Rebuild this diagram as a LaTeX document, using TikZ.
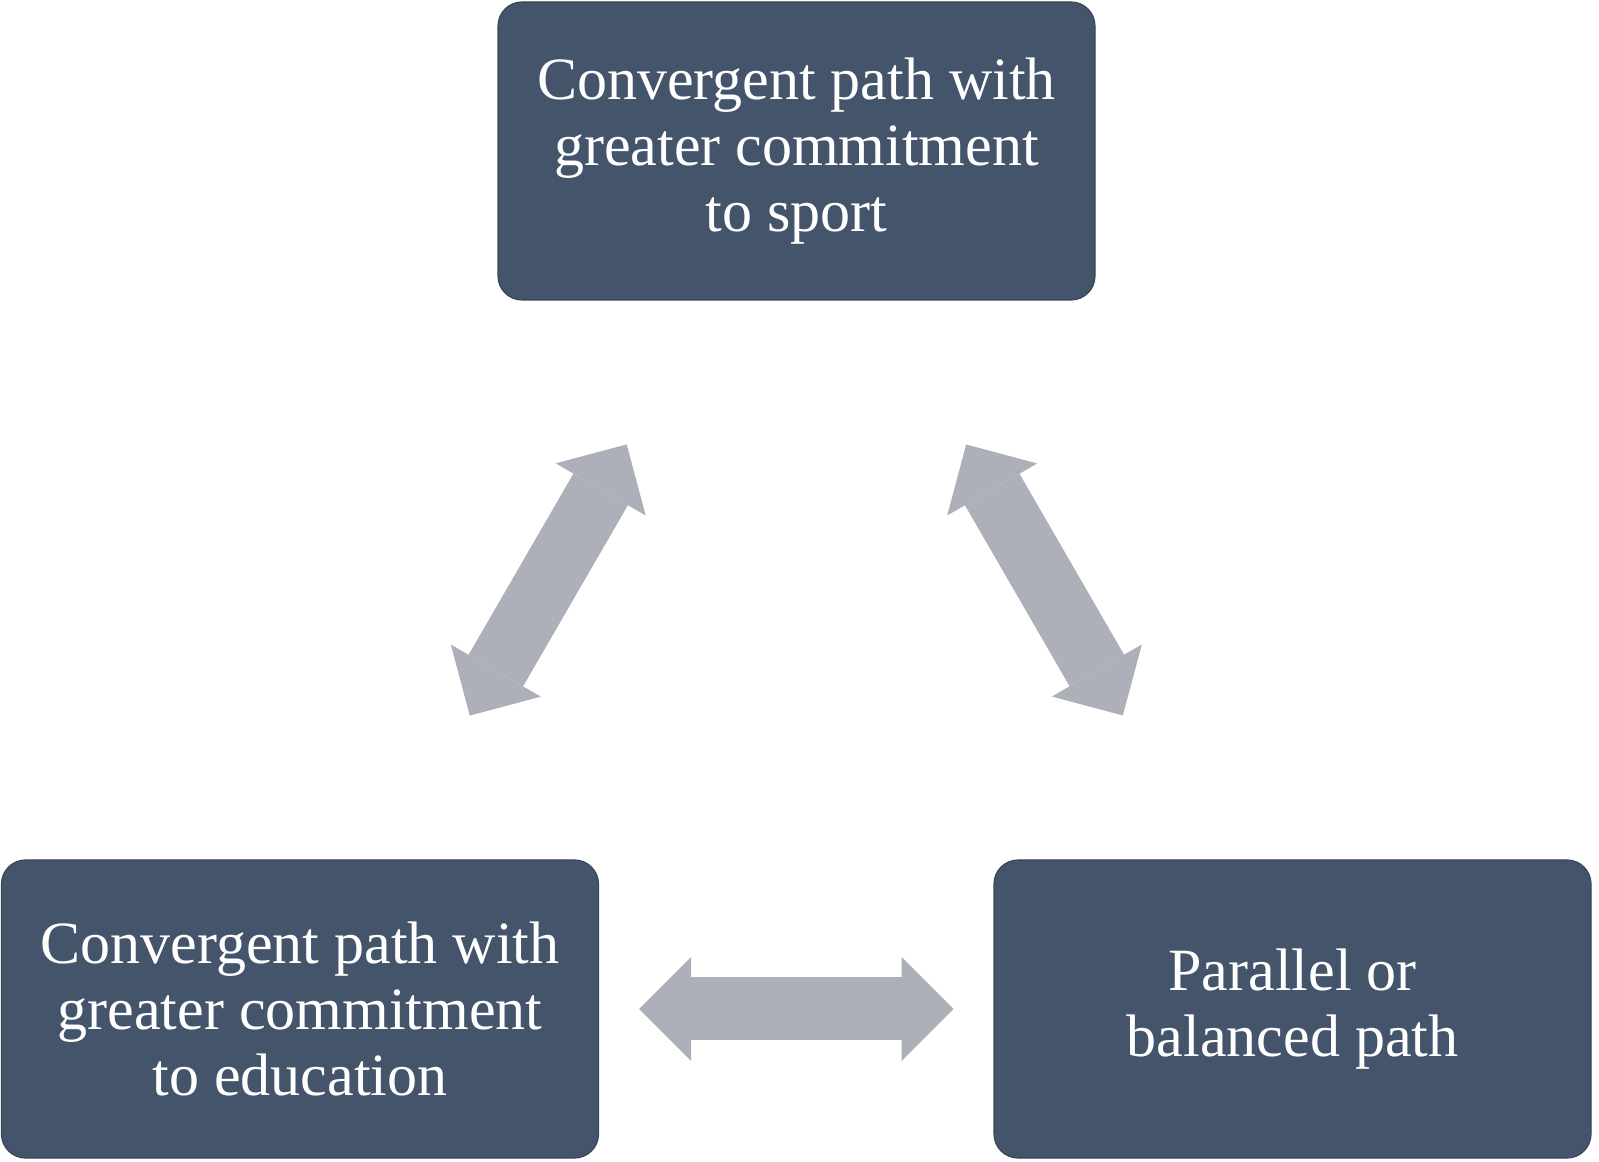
\documentclass[tikz,border=0pt]{standalone}
\usepackage{fontspec}
\setmainfont{Liberation Serif}
\usetikzlibrary{arrows.meta}
\definecolor{pathblue}{RGB}{68,84,106}
\definecolor{linkgray}{RGB}{173,176,184}
\tikzset{
  pathbox/.style={rectangle, rounded corners=12pt, fill=pathblue, draw=pathblue!85!black,
    line width=0.6pt, text=white, minimum width=298.5pt, minimum height=149pt,
    align=center, font=\fontsize{30}{33}\selectfont},
  link/.style={draw=linkgray, line width=31.5pt,
    {Triangle[width=52pt,length=26pt,line width=0pt]}-{Triangle[width=52pt,length=26pt,line width=0pt]},
    shorten <=169.5pt, shorten >=169.5pt}
}
\begin{document}
\begin{tikzpicture}[x=0.5pt,y=0.5pt]
\useasboundingbox (0,0) rectangle (1599,1161);
\node[pathbox] (sport) at (796.5,1010) {Convergent path with\\greater commitment\\to sport};
\node[pathbox] (education) at (300,152) {Convergent path with\\greater commitment\\to education};
\node[pathbox] (balanced) at (1292.5,152) {Parallel or\\balanced path};
\draw[link] (education.center) -- (sport.center);
\draw[link] (sport.center) -- (balanced.center);
\draw[link] (education.center) -- (balanced.center);
\end{tikzpicture}
\end{document}
